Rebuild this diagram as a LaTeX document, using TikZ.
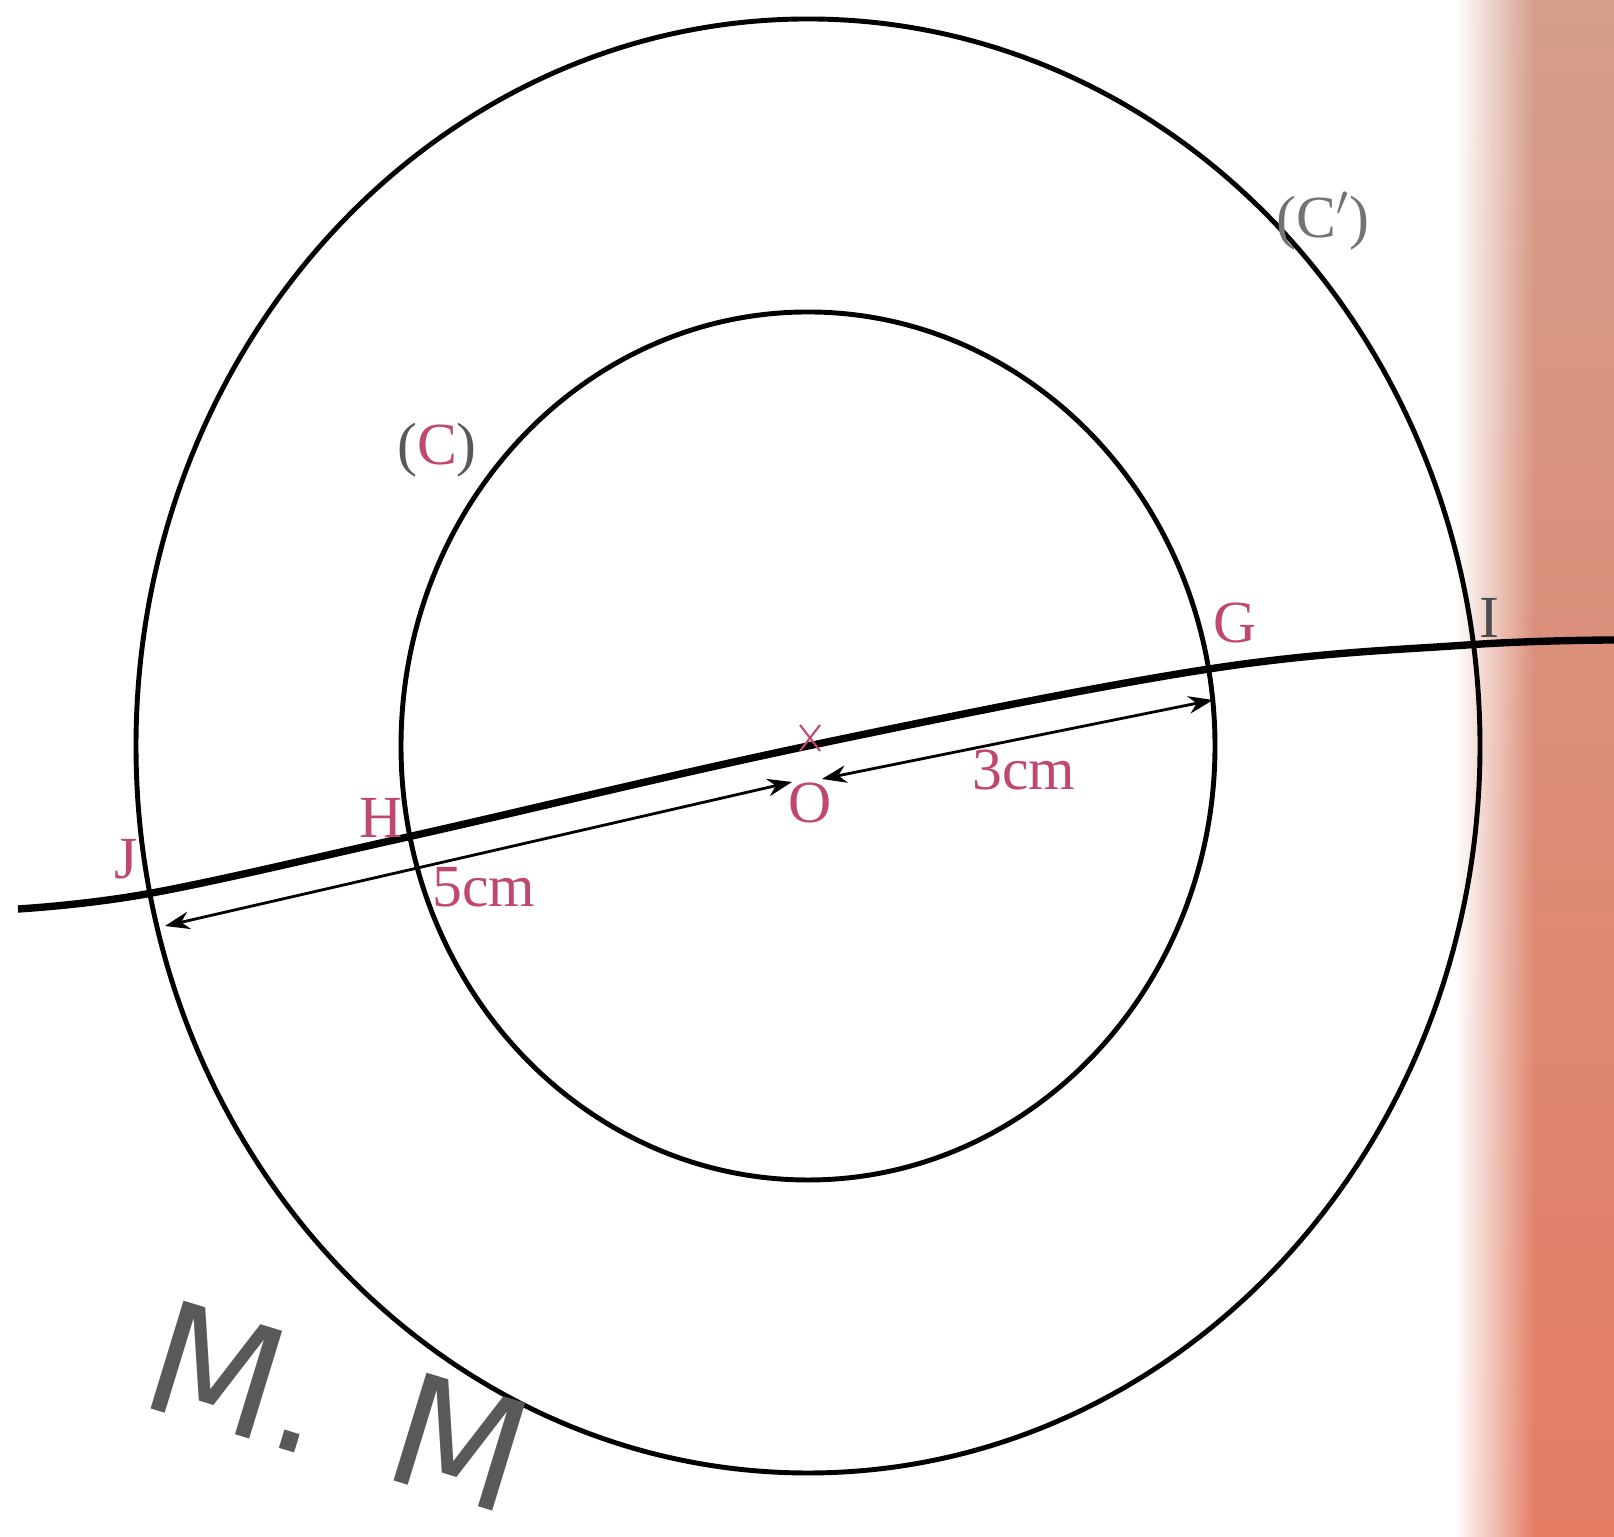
\documentclass[tikz,border=0pt]{standalone}
\usepackage{fontspec}
\setmainfont{Liberation Serif}
\newfontfamily\marksans{DejaVu Sans}
\usetikzlibrary{arrows.meta,fadings}
\definecolor{lbl}{RGB}{192,72,112}
\definecolor{paper}{RGB}{228,124,100}
\definecolor{papertop}{RGB}{212,158,140}
\tikzfading[name=fadeout right,left color=transparent!0,right color=transparent!100]
\tikzset{
  lab/.style={text=lbl,font=\fontsize{17}{20}\selectfont,inner sep=0pt},
  circ/.style={line width=1.4pt},
  wmark/.style={text=black!65,font=\marksans\fontsize{44}{48}\selectfont,rotate=-17,inner sep=0pt},
  dimarrow/.style={line width=0.8pt,{Stealth[length=7pt,width=5pt]}-{Stealth[length=7pt,width=5pt]}}
}
\begin{document}
\begin{tikzpicture}
  \useasboundingbox (0,0) rectangle (16.14,15.37);
  % page edge on the right
  \shade[top color=papertop,bottom color=paper] (14.55,0) rectangle (16.14,15.37);
  \fill[white,path fading=fadeout right] (14.55,0) rectangle (15.35,15.37);
  % the two circles
  \coordinate (O) at (8.08,7.91);
  \draw[circ] (O) ellipse [x radius=4.07,y radius=4.34];
  \draw[circ] (O) ellipse [x radius=6.72,y radius=7.27];
  % the line through O
  \coordinate (L) at (0.18,6.28); \coordinate (R) at (16.14,8.97);
  \coordinate (J) at (1.52,6.44); \coordinate (H) at (4.12,7.01);
  \coordinate (G) at (12.09,8.68); \coordinate (I) at (14.67,8.92);
  \draw[line width=2.1pt] plot[smooth,tension=0.6] coordinates {(L) (J) (H) (O) (G) (I) (R)};
  % lengths
  \coordinate (a1) at (1.65,6.11); \coordinate (a2) at (7.92,7.55);
  \coordinate (a3) at (8.22,7.58); \coordinate (a4) at (12.13,8.37);
  \draw[dimarrow] (a1) -- (a2);
  \draw[dimarrow] (a3) -- (a4);
  \draw[lbl,line width=0.6pt] (8.0,7.86)--(8.2,8.12) (8.2,7.86)--(8.0,8.12);
  % labels
  \node[lab] (lO) at (8.10,7.34) {O};
  \node[lab] (lG) at (12.35,9.14) {G};
  \node[lab,text=black!70] (lI) at (14.89,9.19) {I};
  \node[lab] (lH) at (3.81,7.19) {H};
  \node[lab] (lJ) at (1.26,6.78) {J};
  \node[lab] (l3) at (10.24,7.67) {3cm};
  \node[lab] (l5) at (4.84,6.50) {5cm};
  \node[lab,text=black!65] (lC) at (4.37,10.87) {(\textcolor{lbl}{C})};
  \node[lab,text=black!55] (lCp) at (13.23,13.16) {(C$'$)};
  \node[wmark] (mark1) at (2.4,1.6) {M.};
  \node[wmark] (mark2) at (4.6,0.95) {M};
\end{tikzpicture}
\end{document}
